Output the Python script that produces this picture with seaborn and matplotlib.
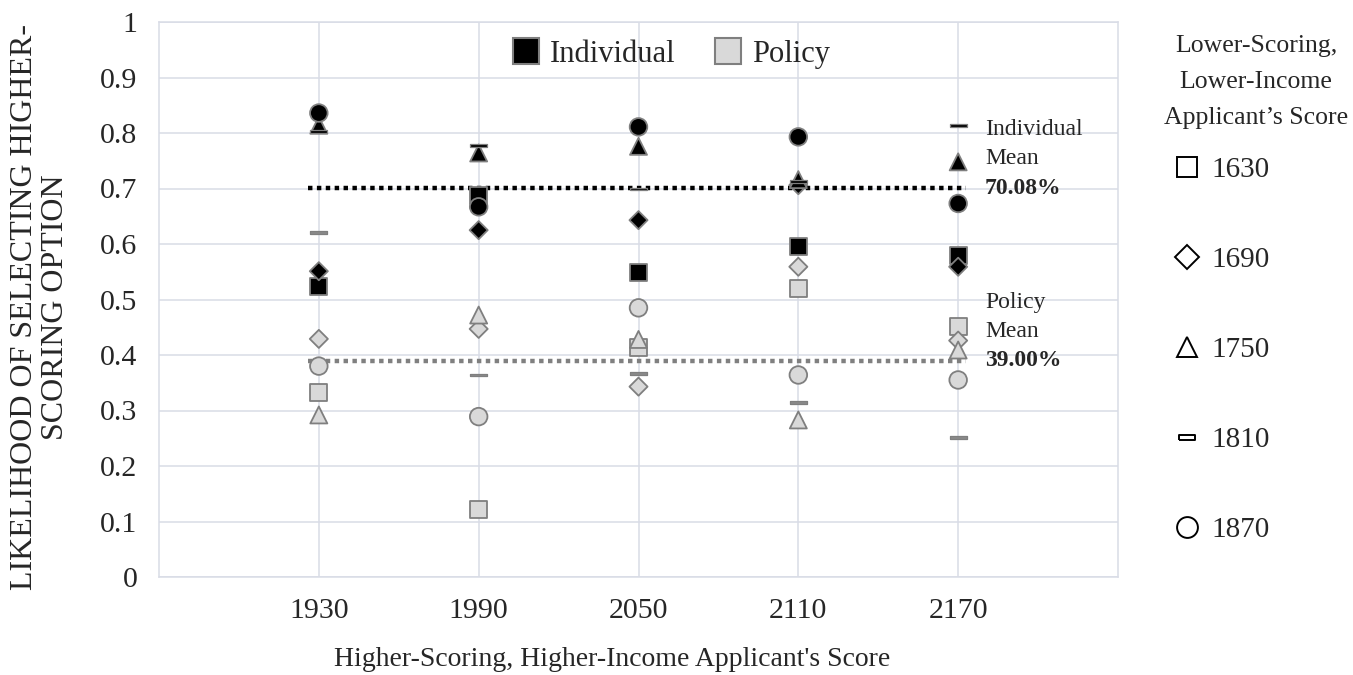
import numpy as np
import pandas as pd
import matplotlib.pyplot as plt
import seaborn as sns
from matplotlib.lines import Line2D

sns.set_style("white")
plt.rcParams['font.family'] = ['Liberation Serif', 'DejaVu Serif']

# Data
higher_scores = ["1930", "1990", "2050", "2110", "2170"]
lower_scores = ["1630", "1690", "1750", "1810", "1870"]

# rows = higher score, columns = lower score (1630, 1690, 1750, 1810, 1870)
individual = [
    [0.523, 0.551, 0.814, 0.803, 0.836],
    [0.688, 0.625, 0.764, 0.777, 0.667],
    [0.548, 0.643, 0.776, 0.699, 0.811],
    [0.595, 0.706, 0.716, 0.713, 0.793],
    [0.580, 0.559, 0.748, 0.813, 0.673],
]
policy = [
    [0.332, 0.429, 0.292, 0.620, 0.380],
    [0.121, 0.447, 0.472, 0.364, 0.289],
    [0.413, 0.343, 0.428, 0.366, 0.485],
    [0.519, 0.559, 0.283, 0.314, 0.364],
    [0.451, 0.426, 0.409, 0.252, 0.355],
]
ind_mean = 0.7008
pol_mean = 0.39

# long format
rows = []
for group, table in [("Policy", policy), ("Individual", individual)]:
    for i, hs in enumerate(higher_scores):
        for j, ls in enumerate(lower_scores):
            rows.append({"group": group, "pos": i, "higher": hs, "lower": ls, "value": table[i][j]})
df = pd.DataFrame(rows)

dash = [(-1, -0.17), (1, -0.17), (1, 0.17), (-1, 0.17), (-1, -0.17)]
dash_hollow = [(-1, -0.3), (1, -0.3), (1, 0.3), (-1, 0.3), (-1, -0.3)]
marker_map = {"1630": "s", "1690": "D", "1750": "^", "1870": "o"}
size_map = {"1630": 150, "1690": 85, "1750": 150, "1870": 160}
edge = "#7f7f7f"

fig = plt.figure(figsize=(13.53, 6.75), dpi=100)
ax = fig.add_axes([159 / 1353, 1 - 577 / 675, 959 / 1353, 555 / 675])

main = df[df["lower"] != "1810"]
sns.scatterplot(data=main, x="pos", y="value", hue="group", style="lower", size="lower",
                palette={"Individual": "black", "Policy": "#d9d9d9"},
                markers=marker_map, sizes=size_map, edgecolor=edge, linewidth=1.3,
                legend=False, ax=ax, zorder=3)
# the 1810 dashes are drawn solid
sns.scatterplot(data=df[df["lower"] == "1810"], x="pos", y="value", hue="group",
                palette={"Individual": "black", "Policy": "#8a8a8a"},
                marker=dash, s=145, edgecolor=edge, linewidth=0.9,
                legend=False, ax=ax, zorder=3)

# mean lines
ax.plot([-0.07, 4.05], [ind_mean, ind_mean], color="black", lw=3.2, linestyle=(0, (1, 1)), zorder=2)
ax.plot([-0.07, 4.05], [pol_mean, pol_mean], color="#808080", lw=3.2, linestyle=(0, (1, 1)), zorder=2)

tx = 4.168
for mean, name in [(ind_mean, "Individual"), (pol_mean, "Policy")]:
    ax.annotate(f"{mean * 100:.2f}%", xy=(tx, mean), xytext=(0, 0), textcoords="offset points",
                va="center", ha="left", fontsize=17, fontweight="bold")
    ax.annotate("Mean", xy=(tx, mean), xytext=(0, 21), textcoords="offset points",
                va="center", ha="left", fontsize=17)
    ax.annotate(name, xy=(tx, mean), xytext=(0, 42), textcoords="offset points",
                va="center", ha="left", fontsize=17)

ax.set_xlim(-1, 5)
ax.set_ylim(0, 1)
ax.set_xticks(range(len(higher_scores)))
ax.set_xticklabels(higher_scores)
yt = np.round(np.arange(0, 1.01, 0.1), 1)
ax.set_yticks(yt)
ax.set_yticklabels(["0" if v == 0 else "1" if v == 1 else f"{v:g}" for v in yt])
ax.tick_params(length=0, labelsize=21.5)
ax.tick_params(axis="y", pad=15.5)
ax.tick_params(axis="x", pad=15)
ax.grid(True, color="#d9dce6", lw=1.1)
ax.set_axisbelow(True)
for sp in ax.spines.values():
    sp.set_color("#d9dce6")
    sp.set_linewidth(1.1)
ax.set_xlabel("")
ax.set_ylabel("")

# group legend at the top
group_handles = [
    Line2D([], [], ls="none", marker="s", markersize=19, markerfacecolor="black",
           markeredgecolor=edge, markeredgewidth=1.5, label="Individual"),
    Line2D([], [], ls="none", marker="s", markersize=19, markerfacecolor="#d9d9d9",
           markeredgecolor=edge, markeredgewidth=1.5, label="Policy"),
]
ax.legend(handles=group_handles, loc="upper center", bbox_to_anchor=(0.533, 1.018), ncol=2,
          frameon=False, fontsize=22, handlelength=1.0, handletextpad=0.3, columnspacing=1.2)

# marker legend on the right
legend_markers = {"1630": ("s", 14), "1690": ("D", 12), "1750": ("^", 15),
                  "1810": (dash_hollow, 12), "1870": ("o", 15)}
shape_handles = [
    Line2D([], [], ls="none", marker=legend_markers[ls][0], markersize=legend_markers[ls][1],
           markerfacecolor="white", markeredgecolor="black", markeredgewidth=1.4, label=ls)
    for ls in lower_scores
]
fig.legend(handles=shape_handles, loc="upper left", bbox_to_anchor=(1172 / 1353, 1 - 157 / 675),
           frameon=False, fontsize=21, labelspacing=2.18, handlelength=1.0, handletextpad=0.35,
           borderaxespad=0, borderpad=0)
fig.text(1256 / 1353, 1 - 82 / 675, "Lower-Scoring,\nLower-Income\nApplicant\u2019s Score",
         ha="center", va="center", multialignment="center", fontsize=18.5, linespacing=1.8)

fig.text(40 / 1353, 1 - 307 / 675, "LIKELIHOOD OF SELECTING HIGHER-\nSCORING OPTION", rotation=90,
         ha="center", va="center", multialignment="center", fontsize=23, linespacing=1.05)
fig.text(612 / 1353, 1 - 660 / 675, "Higher-Scoring, Higher-Income Applicant's Score",
         ha="center", va="center", fontsize=20)

fig.savefig("out.png", dpi=100)
